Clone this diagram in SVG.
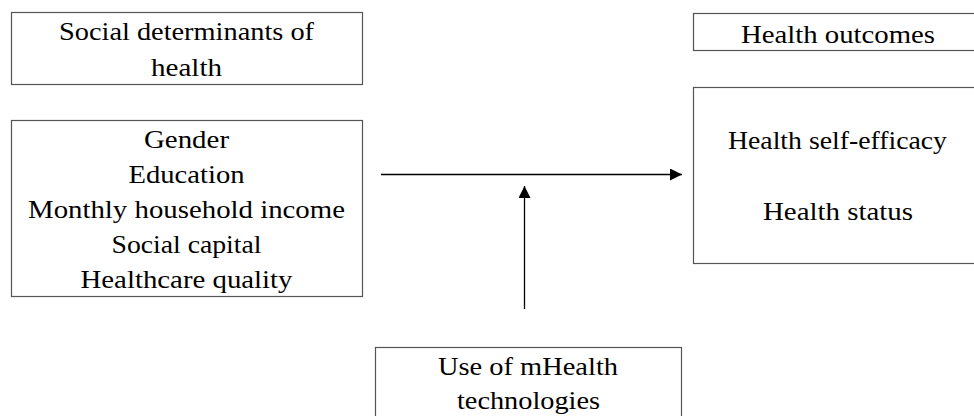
<svg xmlns="http://www.w3.org/2000/svg" width="974" height="416" viewBox="0 0 974 416">
<defs>
<style>
.box{fill:#fff;stroke:#555;stroke-width:1.2}
.t{font-family:"Liberation Serif","Times New Roman",serif;font-size:25px;fill:#000;text-anchor:middle}
.c{stroke:#000;stroke-width:1.3;fill:none}
</style>
<marker id="ah" viewBox="0 0 10 10" refX="10" refY="5" markerWidth="12" markerHeight="12" markerUnits="userSpaceOnUse" orient="auto">
<path d="M0,0 L10,5 L0,10 Z" fill="#000"/>
</marker>
</defs>
<rect width="974" height="416" fill="#fff"/>
<g id="sdh-title">
<rect class="box" x="11.5" y="12.5" width="351" height="72"/>
<text class="t" x="186.5" y="40" textLength="255" lengthAdjust="spacingAndGlyphs">Social determinants of</text>
<text class="t" x="186.5" y="76" textLength="71" lengthAdjust="spacingAndGlyphs">health</text>
</g>
<g id="sdh-list">
<rect class="box" x="11.5" y="120.5" width="351" height="176"/>
<text class="t" x="186.5" y="148" textLength="85" lengthAdjust="spacingAndGlyphs">Gender</text>
<text class="t" x="186.5" y="183" textLength="116" lengthAdjust="spacingAndGlyphs">Education</text>
<text class="t" x="186.5" y="218" textLength="317" lengthAdjust="spacingAndGlyphs">Monthly household income</text>
<text class="t" x="186.5" y="253" textLength="150" lengthAdjust="spacingAndGlyphs">Social capital</text>
<text class="t" x="186.5" y="288" textLength="212" lengthAdjust="spacingAndGlyphs">Healthcare quality</text>
</g>
<g id="outcomes-title">
<rect class="box" x="693.5" y="13.5" width="290" height="37"/>
<text class="t" x="838" y="43" textLength="194" lengthAdjust="spacingAndGlyphs">Health outcomes</text>
</g>
<g id="outcomes-list">
<rect class="box" x="693.5" y="87.5" width="290" height="176"/>
<text class="t" x="837.5" y="149" textLength="219" lengthAdjust="spacingAndGlyphs">Health self-efficacy</text>
<text class="t" x="838" y="220" textLength="150" lengthAdjust="spacingAndGlyphs">Health status</text>
</g>
<g id="mhealth">
<rect class="box" x="375.5" y="347.5" width="306" height="80"/>
<text class="t" x="528" y="375" textLength="180" lengthAdjust="spacingAndGlyphs">Use of mHealth</text>
<text class="t" x="528.5" y="409" textLength="143" lengthAdjust="spacingAndGlyphs">technologies</text>
</g>
<g id="connectors">
<line class="c" x1="381" y1="174.5" x2="682" y2="174.5" marker-end="url(#ah)"/>
<line class="c" x1="524.5" y1="309" x2="524.5" y2="186" marker-end="url(#ah)"/>
</g>
</svg>
